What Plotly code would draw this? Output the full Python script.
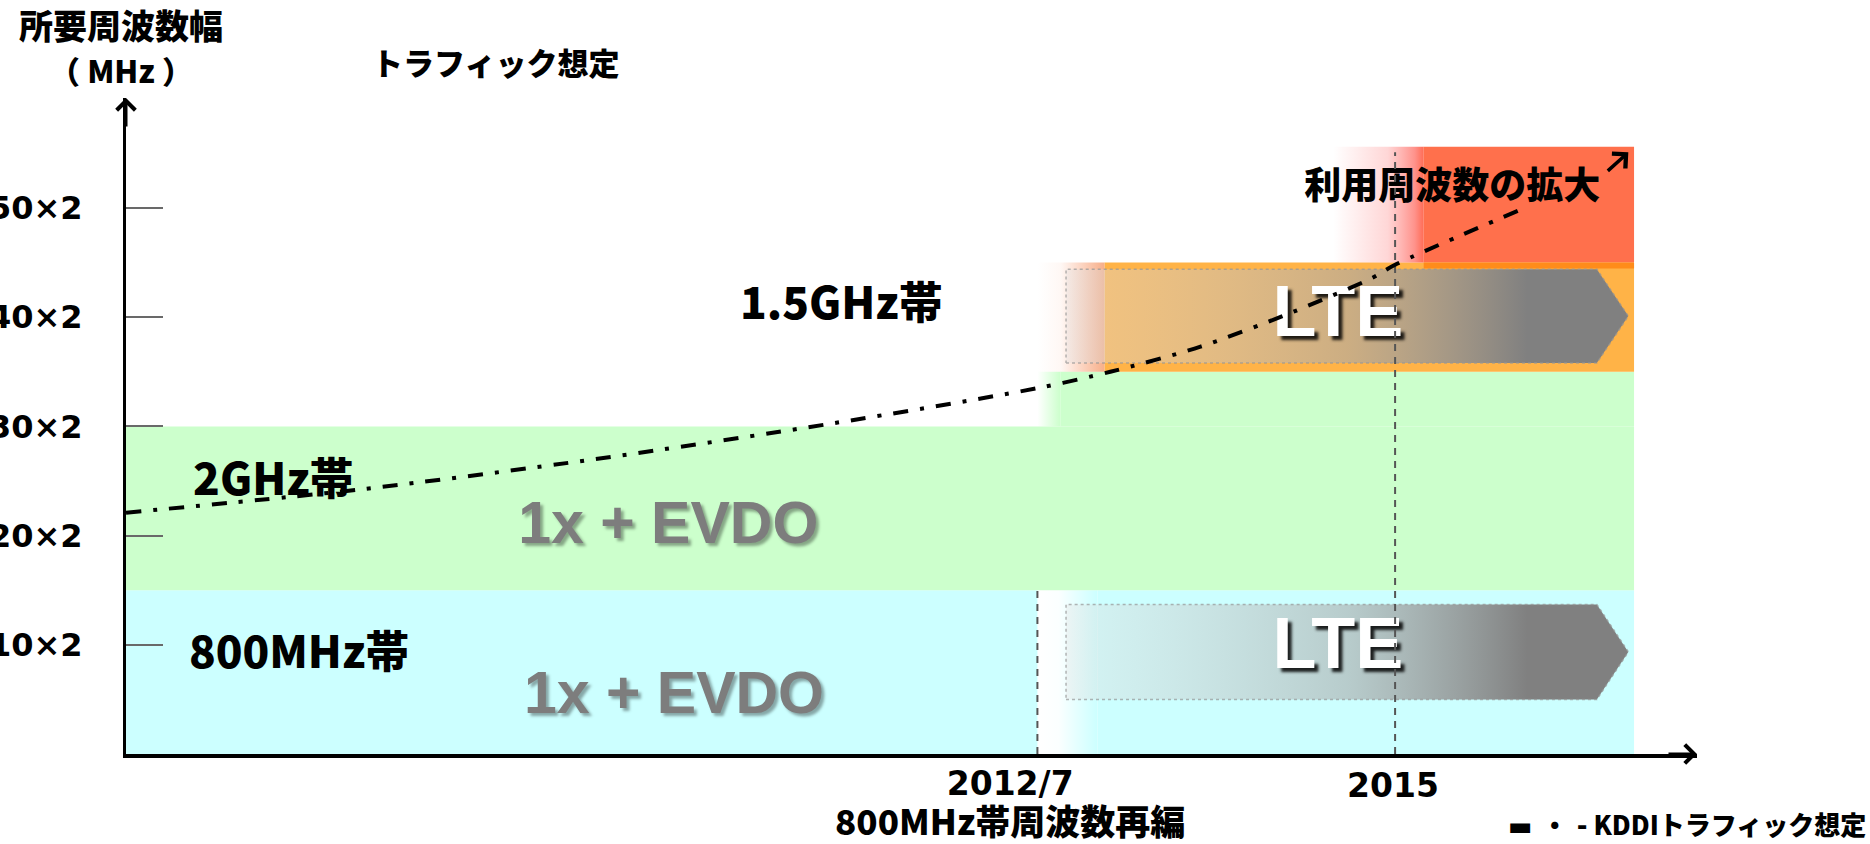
import plotly.graph_objects as go

# ---------------- data ----------------
y_tick_values = [10, 20, 30, 40, 50]
y_tick_labels = ["10×2", "20×2", "30×2", "40×2", "50×2"]

x_axis_range = [2006.13, 2017.11]
y_axis_range = [0, 60.07]

milestone_years = [2012.5, 2015.0]
milestone_labels = ["2012/7", "2015"]
milestone_notes = ["800MHz帯周波数再編", ""]
milestone_line_tops = [15.0, 55.1]

# frequency blocks: years (start, fade end, end) and MHz range
blk_800_pre_years = [2006.13, 2012.5]
blk_800_post_years = [2012.5, 2012.92, 2016.67]
blk_800_mhz = [0, 15]
blk_2g_years = [2006.13, 2016.67]
blk_2g_mhz = [15, 30]
blk_2g_ext_years = [2012.5, 2012.66, 2016.67]
blk_2g_ext_mhz = [30, 35]
blk_15g_years = [2012.5, 2012.97, 2016.67]
blk_15g_mhz = [35, 45]
blk_exp_years = [2014.57, 2015.2, 2016.67]
blk_exp_mhz = [45, 55.6]
blk_exp_edge_mhz = [44.45, 45]

# LTE arrows: years (start, shoulder, tip) and MHz (bottom, middle, top)
lte_years = [2012.70, 2016.41, 2016.63]
lte_lower_mhz = [5.0, 9.35, 13.7]
lte_upper_mhz = [35.8, 40.1, 44.4]

# KDDI traffic assumption
traffic_years = [2006.13, 2007.75, 2009.41, 2011.08, 2012.5, 2013.01,
                 2013.64, 2014.29, 2014.84, 2015.0, 2015.87]
traffic_mhz = [22.1, 24.2, 27.0, 30.3, 33.5, 35.0, 37.3, 40.5, 43.6, 44.8, 49.8]
traffic_arrow_tip = [2016.63, 55.1]

band_label_text = ["800MHz帯", "2GHz帯", "1.5GHz帯"]
band_label_years = [2007.34, 2007.16, 2011.13]
band_label_mhz = [8.85, 24.7, 40.8]

tech_text = ["1x + EVDO", "1x + EVDO"]
tech_years = [2009.96, 2009.92]
tech_mhz = [5.13, 20.7]

lte_text = ["LTE", "LTE"]
lte_text_years = [2014.60, 2014.60]
lte_text_mhz = [9.5, 39.9]

expansion_text = "利用周波数の拡大"
expansion_pos = [2015.40, 51.7]

# ---------------- styling ----------------
W, H = 1870, 844
PL, PR, PT, PB = 126, 1697, 98, 754
CJK = "Noto Sans CJK JP"
CYAN = "rgb(204,255,255)"
GREEN = "rgb(204,255,204)"
ORANGE = "rgb(255,179,71)"
RED = "rgb(255,112,76)"
DARK_ORANGE = "rgb(255,140,26)"


def px_x(px):
    return (px - PL) / (PR - PL)


def px_y(py):
    return (PB - py) / (PB - PT)


fig = go.Figure()


def block(x0, x1, y0, y1, color=None, gradient=None, line=None):
    tr = go.Scatter(x=[x0, x1, x1, x0, x0], y=[y0, y0, y1, y1, y0],
                    mode="lines", fill="toself",
                    line=line or dict(width=0, color="rgba(0,0,0,0)"),
                    hoverinfo="skip", showlegend=False)
    if gradient is not None:
        tr.fillgradient = dict(type="horizontal", colorscale=gradient)
    else:
        tr.fillcolor = color
    fig.add_trace(tr)


# 800MHz band
block(blk_800_pre_years[0], blk_800_pre_years[1], *blk_800_mhz, color=CYAN)
block(blk_800_post_years[0], blk_800_post_years[1], *blk_800_mhz,
      gradient=[[0, "rgba(204,255,255,0)"], [0.35, "rgba(204,255,255,0.08)"],
                [1, "rgba(204,255,255,1)"]])
block(blk_800_post_years[1], blk_800_post_years[2], *blk_800_mhz, color=CYAN)
# 2GHz band
block(blk_2g_years[0], blk_2g_years[1], *blk_2g_mhz, color=GREEN)
block(blk_2g_ext_years[0], blk_2g_ext_years[1], *blk_2g_ext_mhz,
      gradient=[[0, "rgba(204,255,204,0)"], [1, "rgba(204,255,204,1)"]])
block(blk_2g_ext_years[1], blk_2g_ext_years[2], *blk_2g_ext_mhz, color=GREEN)
# 1.5GHz band
block(blk_15g_years[0], blk_15g_years[1], *blk_15g_mhz,
      gradient=[[0, "rgba(250,160,120,0)"], [0.35, "rgba(250,160,120,0.08)"],
                [1, "rgba(245,160,115,0.85)"]])
block(blk_15g_years[1], blk_15g_years[2], *blk_15g_mhz, color=ORANGE)
# expansion
block(blk_exp_years[0], blk_exp_years[1], *blk_exp_mhz,
      gradient=[[0, "rgba(255,120,120,0)"], [0.6, "rgba(255,120,120,0.3)"],
                [0.9, "rgba(255,110,100,0.75)"], [1, "rgba(255,108,85,1)"]])
block(blk_exp_years[1], blk_exp_years[2], *blk_exp_mhz, color=RED)
block(blk_exp_years[1], blk_exp_years[2], *blk_exp_edge_mhz, color=DARK_ORANGE)

# LTE arrows
lte_grad = [[0, "rgba(225,225,225,0.35)"], [0.5, "rgba(170,170,170,0.6)"],
            [0.82, "rgba(128,128,128,1)"], [1, "rgba(128,128,128,1)"]]
for mhz in (lte_lower_mhz, lte_upper_mhz):
    xs = [lte_years[0], lte_years[1], lte_years[2], lte_years[1], lte_years[0], lte_years[0]]
    ys = [mhz[0], mhz[0], mhz[1], mhz[2], mhz[2], mhz[0]]
    fig.add_trace(go.Scatter(x=xs, y=ys, mode="lines", fill="toself",
                             fillgradient=dict(type="horizontal", colorscale=lte_grad),
                             line=dict(color="rgba(150,150,150,0.7)", width=1.5, dash="dot"),
                             hoverinfo="skip", showlegend=False))

# in-plot texts
fig.add_trace(go.Scatter(x=tech_years, y=tech_mhz, mode="text", text=tech_text,
                         textposition="middle center",
                         textfont=dict(family="Liberation Sans", size=59, color="rgb(125,125,125)",
                                       weight="bold", shadow="3px 3px 3px rgba(0,0,0,0.35)"),
                         hoverinfo="skip", showlegend=False))
fig.add_trace(go.Scatter(x=lte_text_years, y=lte_text_mhz, mode="text", text=lte_text,
                         textposition="middle center",
                         textfont=dict(family="Liberation Sans Narrow, Liberation Sans", size=72,
                                       color="white", weight="bold",
                                       shadow="4px 4px 3px rgba(0,0,0,0.85)"),
                         hoverinfo="skip", showlegend=False))
fig.add_trace(go.Scatter(x=band_label_years, y=band_label_mhz, mode="text", text=band_label_text,
                         textposition="middle center",
                         textfont=dict(family=CJK, size=44, color="black", weight=900),
                         hoverinfo="skip", showlegend=False))
fig.add_trace(go.Scatter(x=[expansion_pos[0]], y=[expansion_pos[1]], mode="text",
                         text=[expansion_text], textposition="middle center",
                         textfont=dict(family=CJK, size=37, color="black", weight=900),
                         hoverinfo="skip", showlegend=False))

# milestone dashed lines
for yr, top in zip(milestone_years, milestone_line_tops):
    fig.add_trace(go.Scatter(x=[yr, yr], y=[0, top], mode="lines",
                             line=dict(color="rgb(85,85,85)", width=2, dash="7px,6px"),
                             hoverinfo="skip", showlegend=False))

# traffic curve
fig.add_trace(go.Scatter(x=traffic_years, y=traffic_mhz, mode="lines",
                         line=dict(color="black", width=4, dash="15px,12px,4px,12px",
                                   shape="spline", smoothing=0.8),
                         hoverinfo="skip", showlegend=False))

annotations = []
# traffic arrow head
annotations.append(dict(x=traffic_arrow_tip[0], y=traffic_arrow_tip[1], xref="x", yref="y",
                        text="", showarrow=True, arrowhead=4, arrowsize=1.1, arrowwidth=3.5,
                        arrowcolor="black", ax=-22, ay=20, standoff=0))
# axis arrow heads
annotations.append(dict(x=1, y=0, xref="paper", yref="paper", text="", showarrow=True,
                        arrowhead=4, arrowsize=1.2, arrowwidth=3, arrowcolor="black",
                        ax=-30, ay=0, standoff=0))
annotations.append(dict(x=0, y=1, xref="paper", yref="paper", text="", showarrow=True,
                        arrowhead=4, arrowsize=1.2, arrowwidth=3, arrowcolor="black",
                        ax=0, ay=30, standoff=0))

# milestone labels
label_shift = [-27, -2]
for yr, lab, note, s1 in zip(milestone_years, milestone_labels, milestone_notes, label_shift):
    if note:
        txt = ("<span style='font-family:DejaVu Sans;font-size:33px;font-weight:bold'>"
               + lab + "</span><br><span style='font-size:35px'>" + note + "</span>")
        annotations.append(dict(x=yr, y=px_y(804), xref="x", yref="paper", text=txt,
                                showarrow=False, xanchor="center", yanchor="middle", xshift=s1,
                                align="center",
                                font=dict(family=CJK, size=31, color="black", weight=900)))
    else:
        annotations.append(dict(x=yr, y=px_y(785), xref="x", yref="paper", text=lab,
                                showarrow=False, xanchor="center", yanchor="middle", xshift=s1,
                                font=dict(family="DejaVu Sans", size=33, color="black",
                                          weight="bold")))

# titles and legend
annotations.append(dict(x=px_x(121), y=px_y(46), xref="paper", yref="paper",
                        text="所要周波数幅<br><span style='font-size:31px'>（ MHz ）</span>",
                        showarrow=False, xanchor="center", yanchor="middle", align="center",
                        font=dict(family=CJK, size=34, color="black", weight=900)))
annotations.append(dict(x=px_x(495), y=px_y(62), xref="paper", yref="paper", text="トラフィック想定",
                        showarrow=False, xanchor="center", yanchor="middle",
                        font=dict(family=CJK, size=31, color="black", weight=900)))
annotations.append(dict(x=px_x(1868), y=px_y(823), xref="paper", yref="paper",
                        text=("<span style='font-family:DejaVu Sans;font-weight:bold'>▬ </span>・"
                              "<span style='font-family:DejaVu Sans;font-weight:bold'> -</span>"
                              " KDDIトラフィック想定"),
                        showarrow=False, xanchor="right", yanchor="middle",
                        font=dict(family=CJK, size=26, color="black", weight=900)))

fig.update_layout(
    width=W, height=H,
    margin=dict(l=PL, r=W - PR, t=PT, b=H - PB, pad=0, autoexpand=False),
    paper_bgcolor="white", plot_bgcolor="white",
    showlegend=False,
    annotations=annotations,
    xaxis=dict(range=x_axis_range, showgrid=False, zeroline=False, showticklabels=False,
               ticks="", showline=True, linecolor="black", linewidth=4, fixedrange=True,
               automargin=False),
    yaxis=dict(range=y_axis_range, showgrid=False, zeroline=False,
               tickvals=y_tick_values, ticktext=y_tick_labels,
               ticks="inside", ticklen=37, tickwidth=2, tickcolor="rgb(105,105,105)",
               tickfont=dict(family="DejaVu Sans", size=32, color="black", weight="bold"),
               ticklabelstandoff=34, automargin=False,
               showline=True, linecolor="black", linewidth=3, fixedrange=True),
)

fig.write_html("out.html")
